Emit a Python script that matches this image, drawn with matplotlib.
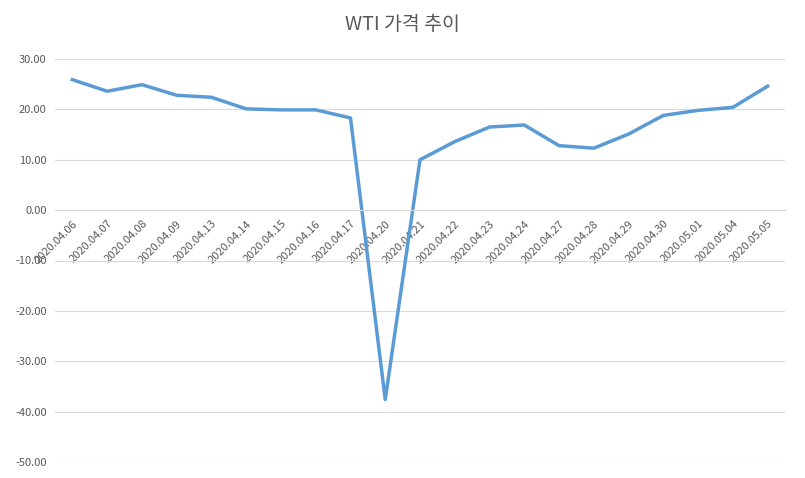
import matplotlib
matplotlib.use("Agg")
import matplotlib.pyplot as plt

dates = ["2020.04.06","2020.04.07","2020.04.08","2020.04.09","2020.04.13","2020.04.14",
         "2020.04.15","2020.04.16","2020.04.17","2020.04.20","2020.04.21","2020.04.22",
         "2020.04.23","2020.04.24","2020.04.27","2020.04.28","2020.04.29","2020.04.30",
         "2020.05.01","2020.05.04","2020.05.05"]
prices = [25.9, 23.6, 24.9, 22.8, 22.4, 20.1, 19.9, 19.9, 18.3, -37.6, 10.0, 13.6,
          16.5, 16.9, 12.8, 12.3, 15.1, 18.8, 19.8, 20.4, 24.6]
yticks = [30, 20, 10, 0, -10, -20, -30, -40, -50]

plt.rcParams['font.family'] = ['Noto Sans CJK KR', 'DejaVu Sans']
fig = plt.figure(figsize=(8.05, 4.78), dpi=100)
ax = fig.add_axes([55/805, 1-462/478, 730/805, (462-59)/478])
x = list(range(len(dates)))
ax.plot(x, prices, color='#5B9BD5', lw=2.5)
ax.set_xlim(-0.5, len(dates)-0.5)
ax.set_ylim(-50, 30)
ax.set_yticks(yticks)
ax.set_yticklabels([f"{v:.2f}" for v in yticks], fontsize=8, color='#595959')
ax.grid(axis='y', color='#D9D9D9', lw=0.8)
ax.set_axisbelow(True)
for s in ['top', 'right', 'left']:
    ax.spines[s].set_visible(False)
ax.spines['bottom'].set_position(('data', 0))
ax.spines['bottom'].set_color('#D9D9D9')
ax.set_xticks(x)
ax.set_xticklabels(dates, rotation=45, ha='right', va='top', rotation_mode='anchor',
                   fontsize=8, color='#595959')
ax.tick_params(axis='both', length=0, pad=6)
fig.text(0.5, 1-25/478, "WTI 가격 추이", ha='center', va='center', fontsize=14, color='#595959')
fig.savefig("out.png", dpi=100)
